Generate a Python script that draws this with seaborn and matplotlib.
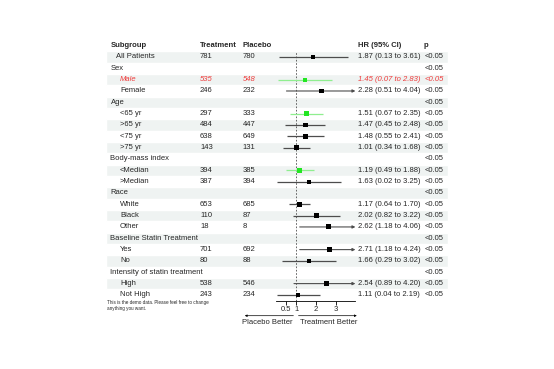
import numpy as np
import pandas as pd
import matplotlib
matplotlib.use("Agg")
import matplotlib.pyplot as plt
import seaborn as sns

nan = np.nan

##### data
subgroup = ["All Patients", "Sex", "Male", "Female", "Age", "<65 yr", ">65 yr", "<75 yr", ">75 yr",
            "Body-mass index", "<Median", ">Median", "Race", "White", "Black", "Other",
            "Baseline Statin Treatment", "Yes", "No", "Intensity of statin treatment", "High", "Not High"]
treatment = ["781", "", "535", "246", "", "297", "484", "638", "143", "", "394", "387",
             "", "653", "110", "18", "", "701", "80", "", "538", "243"]
placebo = ["780", "", "548", "232", "", "333", "447", "649", "131", "", "385", "394",
           "", "685", "87", "8", "", "692", "88", "", "546", "234"]
est = [1.87, nan, 1.45, 2.28, nan, 1.51, 1.47, 1.48, 1.01, nan, 1.19, 1.63,
       nan, 1.17, 2.02, 2.62, nan, 2.71, 1.66, nan, 2.54, 1.11]
low = [0.13, nan, 0.07, 0.51, nan, 0.67, 0.45, 0.55, 0.34, nan, 0.49, 0.02,
       nan, 0.64, 0.82, 1.18, nan, 1.18, 0.29, nan, 0.89, 0.04]
hi = [3.61, nan, 2.83, 4.04, nan, 2.35, 2.48, 2.41, 1.68, nan, 1.88, 3.25,
      nan, 1.70, 3.22, 4.06, nan, 4.24, 3.02, nan, 4.20, 2.19]
p_val = ["<0.05"] * 22
box_wt = [4.0, nan, 3.4, 4.0, nan, 4.6, 4.4, 4.4, 4.4, nan, 4.5, 3.7,
          nan, 4.8, 4.7, 4.7, nan, 4.7, 4.0, nan, 4.4, 3.7]
green_rows = ["Male", "<65 yr", "<Median"]
red_row = "Male"
xticks = [0.5, 1, 2, 3]

##### layout (pixel units of a 554x369 canvas)
W, H = 554, 369
row0, step = 57.0, 11.33
ypos = [row0 + i * step for i in range(len(subgroup))]
head_y = row0 - step
col_x = {"sub": 110.5, "trt": 200, "pla": 242.5, "hr": 358, "p": 423.5}
f_left, f_right, f_top, f_bot = 276.4, 355.4, 51, 300.5

sns.set_style("white")
plt.rcParams['font.family'] = ['Liberation Sans', 'DejaVu Sans']
fs = 5.5
grey = "#4d4d4d"
red = "#ee3b3b"

fig = plt.figure(figsize=(W / 100, H / 100), dpi=100)
ax_t = fig.add_axes([0, 0, 1, 1])
ax_t.set_xlim(0, W)
ax_t.set_ylim(H, 0)
ax_t.axis("off")

# stripes
stripe_y = ypos[0::2]
ax_t.barh(stripe_y, width=448 - 106, left=106, height=step, color="#eff3f2", zorder=0)

# header
for key, lab in [("sub", "Subgroup"), ("trt", "Treatment"), ("pla", "Placebo"),
                 ("hr", "HR (95% CI)"), ("p", "p")]:
    ax_t.text(col_x[key], head_y, lab, fontsize=fs, fontweight="bold", va="center", ha="left")

# table body
for i, name in enumerate(subgroup):
    y = ypos[i]
    is_group = np.isnan(est[i]) and i > 0
    if is_group:
        x0 = col_x["sub"]
    elif i == 0:
        x0 = 116
    else:
        x0 = 120
    kw = dict(fontsize=fs, va="center", ha="left")
    if name == red_row:
        kw.update(color=red, style="italic")
    ax_t.text(x0, y, name, **kw)
    ax_t.text(col_x["trt"], y, treatment[i], **kw)
    ax_t.text(col_x["pla"], y, placebo[i], **kw)
    if not np.isnan(est[i]):
        ax_t.text(col_x["hr"], y, f"{est[i]:.2f} ({low[i]:.2f} to {hi[i]:.2f})", **kw)
    ax_t.text(col_x["p"] + 1.5, y, p_val[i], **kw)

ax_t.text(107, 302.7, "This is the demo data. Please feel free to change", fontsize=3.3, va="center")
ax_t.text(107, 308.2, "anything you want.", fontsize=3.3, va="center")

##### forest panel
ax_f = fig.add_axes([f_left / W, 1 - f_bot / H, (f_right - f_left) / W, (f_bot - f_top) / H])
ax_f.set_facecolor("none")
ax_f.set_xlim(0, 4)
ax_f.set_ylim(f_bot, f_top)
for s in ["top", "left", "right"]:
    ax_f.spines[s].set_visible(False)
ax_f.spines["bottom"].set_linewidth(0.6)
ax_f.spines["bottom"].set_color("black")
ax_f.set_yticks([])
ax_f.set_xticks(xticks)
ax_f.set_xticklabels(["0.5", "1", "2", "3"], fontsize=fs)
ax_f.tick_params(axis="x", direction="out", length=3, width=0.6, pad=1, bottom=True, color="black")
ax_f.axvline(1, color=grey, lw=0.6, ls=(0, (2, 2)), zorder=1)

df = pd.DataFrame({"sub": subgroup, "est": est, "low": low, "hi": hi, "y": ypos, "box": box_wt})
df = df.dropna().reset_index(drop=True)
df["col"] = np.where(df["sub"].isin(green_rows), "#22e622", "#000000")
df["line"] = np.where(df["sub"].isin(green_rows), "#8fee8f", grey)

for _, r in df.iterrows():
    if r["hi"] > 4:
        ax_f.annotate("", xy=(4, r["y"]), xytext=(r["low"], r["y"]),
                      arrowprops=dict(arrowstyle="-|>", lw=0.8, color=r["line"],
                                      mutation_scale=4, shrinkA=0, shrinkB=0))
    else:
        ax_f.hlines(r["y"], r["low"], r["hi"], color=r["line"], lw=0.9, zorder=2)

size_map = {b: (b * 0.78) ** 2 for b in df["box"].unique()}
sns.scatterplot(data=df, x="est", y="y", hue="col", palette={c: c for c in df["col"].unique()},
                size="box", sizes=size_map, marker="s", linewidth=0, legend=False, ax=ax_f, zorder=3)
ax_f.set_xlabel("")
ax_f.set_ylabel("")

# direction arrows
arr_y, lab_y = 315.7, 322.3
ax_f.annotate("", xy=(-1.6, arr_y), xytext=(0.86, arr_y), annotation_clip=False,
              arrowprops=dict(arrowstyle="-|>", lw=0.5, color="black", mutation_scale=3,
                              shrinkA=0, shrinkB=0))
ax_f.annotate("", xy=(4.07, arr_y), xytext=(1.12, arr_y), annotation_clip=False,
              arrowprops=dict(arrowstyle="-|>", lw=0.5, color="black", mutation_scale=3,
                              shrinkA=0, shrinkB=0))
ax_f.text(0.83, lab_y, "Placebo Better", fontsize=fs, ha="right", va="center", clip_on=False)
ax_f.text(1.19, lab_y, "Treatment Better", fontsize=fs, ha="left", va="center", clip_on=False)

plt.savefig("out.png", dpi=100)
